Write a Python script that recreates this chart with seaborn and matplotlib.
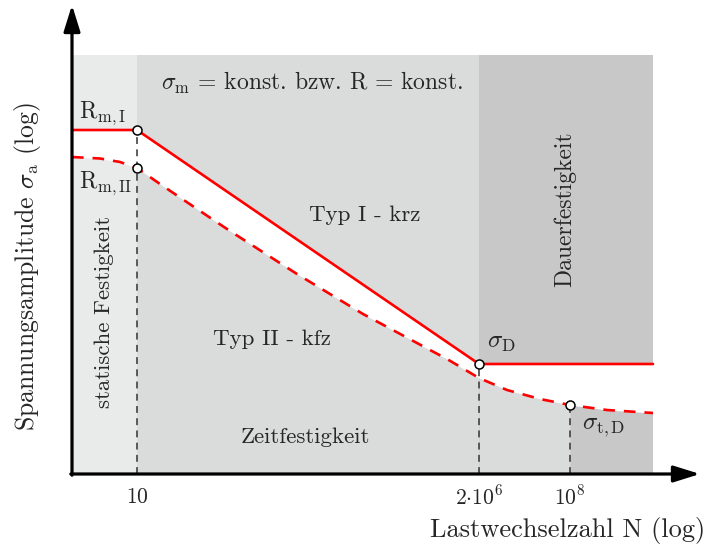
import numpy as np
import matplotlib
matplotlib.use("Agg")
import matplotlib.pyplot as plt
import seaborn as sns

sns.set_theme(style="white")
plt.rcParams["font.family"] = ["cmr10", "DejaVu Serif"]
plt.rcParams["mathtext.fontset"] = "cm"
plt.rcParams["axes.formatter.use_mathtext"] = True

# ---- schematic data (x: position along log N axis, y: position along log sigma_a axis)
tick_pos = [65, 407, 498]
tick_labels = [r"$10$", r"$2{\cdot}10^{6}$", r"$10^{8}$"]

# Typ I - krz (solid): R_m,I -> sigma_D -> horizontal
typ1_x = [0, 65, 407, 581]
typ1_y = [344, 344, 110, 110]

# Typ II - kfz (dashed, continuously falling)
typ2_x = [0, 28, 48, 65, 88, 128, 158, 225, 291, 358, 375, 407, 435, 468, 498, 535, 581]
typ2_y = [317, 315.5, 312, 306, 290, 263, 243, 200, 160, 124, 115, 96, 84, 75, 69, 64, 61]

# characteristic points
pts_x = [65, 65, 407, 498]
pts_y = [344, 306, 110, 69]

x_end, y_top = 581, 419
x_static, x_D, x_tD = 65, 407, 498

c_static = "#e9eaea"
c_mid = "#dadbdb"
c_dark = "#c8c8c8"

fig = plt.figure(figsize=(7.1, 5.46), dpi=100)
ax = fig.add_axes([0, 0, 1, 1])
ax.set_xlim(-72, 638)
ax.set_ylim(-72, 474)
ax.axis("off")

# background regions
ax.fill_between([0, x_static], 0, y_top, color=c_static, lw=0, zorder=0)
ax.fill_between([x_static, x_D], 0, y_top, color=c_mid, lw=0, zorder=0)
ax.fill_between([x_D, x_end], 0, y_top, color=c_dark, lw=0, zorder=0)
t2x = np.array(typ2_x, float)
t2y = np.array(typ2_y, float)
m = (t2x >= x_D) & (t2x <= x_tD)
ax.fill_between(t2x[m], 0, t2y[m], color=c_mid, lw=0, zorder=0.5)
# white band between the curves
solid_at = np.interp(t2x, typ1_x, typ1_y)
ax.fill_between(t2x, t2y, solid_at, color="white", lw=0, zorder=1)

# dashed verticals
for xv, yv in [(pts_x[0], pts_y[0]), (pts_x[2], pts_y[2]), (pts_x[3], pts_y[3])]:
    ax.plot([xv, xv], [0, yv], color="#333333", lw=1.1, ls=(0, (4.5, 3.5)), zorder=2)

# curves
sns.lineplot(x=typ1_x, y=typ1_y, sort=False, color="#ff0000", lw=1.9, ax=ax, zorder=3)
sns.lineplot(x=typ2_x, y=typ2_y, sort=False, color="#ff0000", lw=1.9, ax=ax,
             zorder=3, linestyle=(0, (4.4, 3.4)))
ax.plot(pts_x, pts_y, "o", ms=6.5, mfc="white", mec="black", mew=1.1, zorder=4)

# axes arrows
ap = dict(arrowstyle="-|>,head_length=0.8,head_width=0.25", lw=2.3, color="black",
          mutation_scale=20, shrinkA=0, shrinkB=0)
ax.annotate("", xy=(628, 0), xytext=(-1.2, 0), arrowprops=ap, zorder=5)
ax.annotate("", xy=(0, 469), xytext=(0, -1.2), arrowprops=ap, zorder=5)

fs = 16.5
ax.text(240, 391, r"$\sigma_{\mathrm{m}}$ = konst. bzw. R = konst.", ha="center", va="center", fontsize=17)
ax.text(7, 347, r"$\mathrm{R}_{\mathrm{m,I}}$", ha="left", va="bottom", fontsize=17)
ax.text(7, 291, r"$\mathrm{R}_{\mathrm{m,II}}$", ha="left", va="center", fontsize=17)
ax.text(32, 162, "statische Festigkeit", rotation=90, ha="center", va="center", fontsize=fs)
ax.text(293, 259, "Typ I - krz", ha="center", va="center", fontsize=fs)
ax.text(200, 135, "Typ II - kfz", ha="center", va="center", fontsize=fs)
ax.text(233, 37, "Zeitfestigkeit", ha="center", va="center", fontsize=fs)
ax.text(493, 265, "Dauerfestigkeit", rotation=90, ha="center", va="center", fontsize=17)
ax.text(415, 131, r"$\sigma_{\mathrm{D}}$", ha="left", va="center", fontsize=18)
ax.text(510, 46, r"$\sigma_{\mathrm{t,D}}$", ha="left", va="center", fontsize=18)

for p, lab in zip(tick_pos, tick_labels):
    ax.text(p, -23, lab, ha="center", va="center", fontsize=15.5)

ax.text(633, -56, "Lastwechselzahl N (log)", ha="right", va="center", fontsize=19)
ax.text(-44, 207, r"Spannungsamplitude $\sigma_{\mathrm{a}}$ (log)", rotation=90,
        ha="center", va="center", fontsize=18.5)

fig.savefig("out.png", dpi=100)
